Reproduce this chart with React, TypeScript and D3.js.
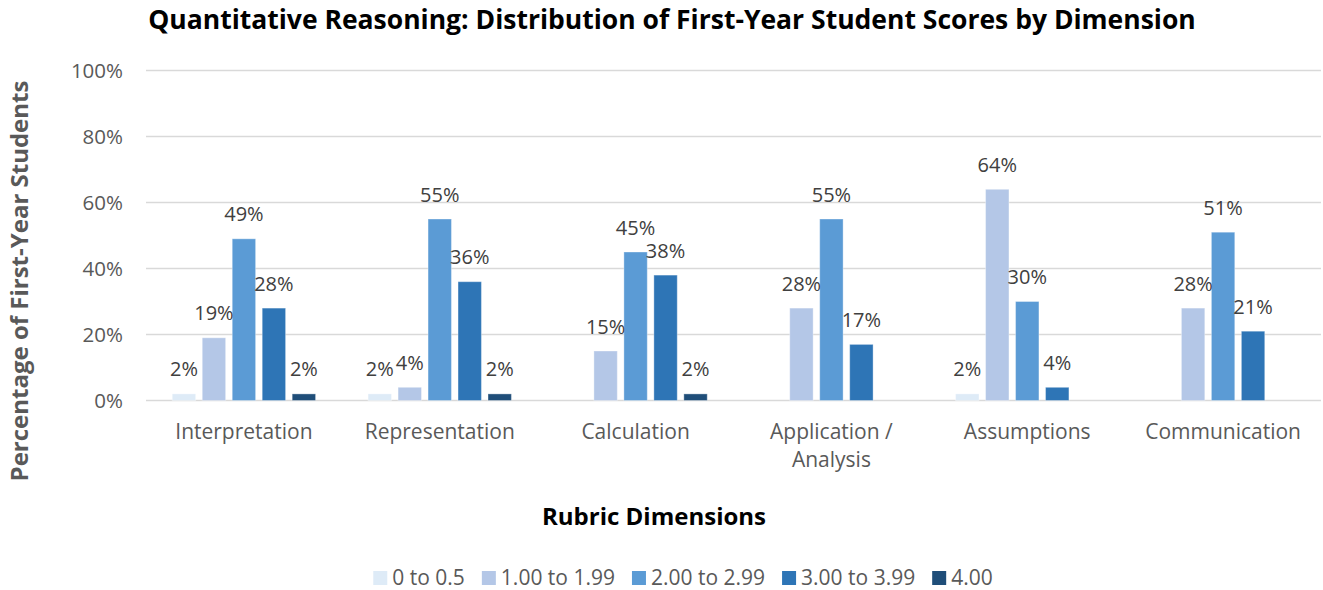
import React, { useEffect, useRef } from 'react';
import * as d3 from 'd3';

const categories = ['Interpretation', 'Representation', 'Calculation', 'Application / Analysis', 'Assumptions', 'Communication'];
const seriesNames = ['0 to 0.5', '1.00 to 1.99', '2.00 to 2.99', '3.00 to 3.99', '4.00'];
const seriesColors = ['#deebf7', '#b4c7e7', '#5b9bd5', '#2e75b6', '#1f4e79'];
// percent values per series, one per category
const s0 = [2, 2, 0, 0, 2, 0];
const s1 = [19, 4, 15, 28, 64, 28];
const s2 = [49, 55, 45, 55, 30, 51];
const s3 = [28, 36, 38, 17, 4, 21];
const s4 = [2, 2, 2, 0, 0, 0];
const yTicks = [0, 20, 40, 60, 80, 100];

const FONT = '"Open Sans", sans-serif';

const App = () => {
  const svgRef: any = useRef();

  useEffect(() => {
    document.body.style.margin = '0';
    const width = 1323;
    const height = 590;
    const svg = d3.select(svgRef.current);
    svg.selectAll('*').remove();
    svg.attr('width', width).attr('height', height).style('font-family', FONT);

    const series = [s0, s1, s2, s3, s4];

    const x0 = d3.scaleBand().domain(categories).range([146, 1321]);
    const x1 = d3.scaleBand().domain(seriesNames).range([0, x0.bandwidth()]).paddingInner(0.22).paddingOuter(0.876);
    const y = d3.scaleLinear().domain([0, 100]).range([400.5, 70.5]);

    // gridlines
    svg.append('g')
      .selectAll('line')
      .data(yTicks)
      .join('line')
      .attr('x1', 146)
      .attr('x2', 1321)
      .attr('y1', d => y(d))
      .attr('y2', d => y(d))
      .attr('stroke', '#d9d9d9')
      .attr('stroke-width', 1.3);

    // y tick labels
    svg.append('g')
      .selectAll('text')
      .data(yTicks)
      .join('text')
      .attr('x', 123)
      .attr('y', d => y(d))
      .attr('dy', '0.35em')
      .attr('text-anchor', 'end')
      .attr('font-size', 20.5)
      .attr('fill', '#595959')
      .text(d => `${d}%`);

    // bars
    const groups = svg.append('g')
      .selectAll('g')
      .data(categories)
      .join('g')
      .attr('transform', d => `translate(${x0(d)},0)`);

    groups.each(function (cat, ci) {
      const g = d3.select(this);
      const pts = seriesNames.map((name, si) => ({ name, si, v: series[si][ci] })).filter(p => p.v > 0);
      g.selectAll('rect')
        .data(pts)
        .join('rect')
        .attr('x', d => x1(d.name)!)
        .attr('width', x1.bandwidth())
        .attr('y', d => y(d.v))
        .attr('height', d => y(0) - y(d.v))
        .attr('fill', d => seriesColors[d.si])
        .attr('stroke', '#ffffff')
        .attr('stroke-opacity', 0.35)
        .attr('stroke-width', 1);
      g.selectAll('text')
        .data(pts)
        .join('text')
        .attr('x', d => x1(d.name)! + x1.bandwidth() / 2)
        .attr('y', d => y(d.v) - 17.5)
        .attr('text-anchor', 'middle')
        .attr('font-size', 20)
        .attr('fill', '#404040')
        .text(d => `${d.v}%`);
    });

    // category labels
    svg.append('g')
      .selectAll('text')
      .data(categories)
      .join('text')
      .attr('x', d => x0(d)! + x0.bandwidth() / 2)
      .attr('y', 439)
      .attr('text-anchor', 'middle')
      .attr('font-size', 21)
      .attr('fill', '#595959')
      .each(function (d) {
        const t = d3.select(this);
        const parts = d.includes(' / ') ? [d.split(' / ')[0] + ' /', d.split(' / ')[1]] : [d];
        parts.forEach((p, i) => {
          t.append('tspan')
            .attr('x', x0(d)! + x0.bandwidth() / 2)
            .attr('dy', i === 0 ? 0 : 28)
            .text(p);
        });
      });

    // title
    svg.append('text')
      .attr('x', 672)
      .attr('y', 29)
      .attr('text-anchor', 'middle')
      .attr('font-size', 26.5)
      .attr('font-weight', 'bold')
      .attr('fill', '#000000')
      .text('Quantitative Reasoning: Distribution of First-Year Student Scores by Dimension');

    // axis titles
    svg.append('text')
      .attr('transform', 'translate(28,281) rotate(-90)')
      .attr('text-anchor', 'middle')
      .attr('font-size', 24)
      .attr('font-weight', 'bold')
      .attr('fill', '#595959')
      .text('Percentage of First-Year Students');

    svg.append('text')
      .attr('x', 654)
      .attr('y', 525)
      .attr('text-anchor', 'middle')
      .attr('font-size', 24)
      .attr('font-weight', 'bold')
      .attr('fill', '#000000')
      .text('Rubric Dimensions');

    // legend
    const legend = svg.append('g');
    const items = legend.selectAll('g')
      .data(seriesNames)
      .join('g');
    items.append('rect')
      .attr('width', 14)
      .attr('height', 14)
      .attr('y', -14)
      .attr('fill', (d, i) => seriesColors[i]);
    items.append('text')
      .attr('x', 19)
      .attr('y', 0)
      .attr('font-size', 21)
      .attr('fill', '#595959')
      .text(d => d);
    let cx = 0;
    const offsets: number[] = [];
    items.each(function () {
      offsets.push(cx);
      const w = (d3.select(this).select('text').node() as SVGTextElement).getComputedTextLength();
      cx += 19 + w + 17;
    });
    const total = cx - 17;
    const start = 683 - total / 2;
    items.attr('transform', (d, i) => `translate(${start + offsets[i]},585)`);
  }, []);

  return <svg ref={svgRef}></svg>;
};

export default App;
